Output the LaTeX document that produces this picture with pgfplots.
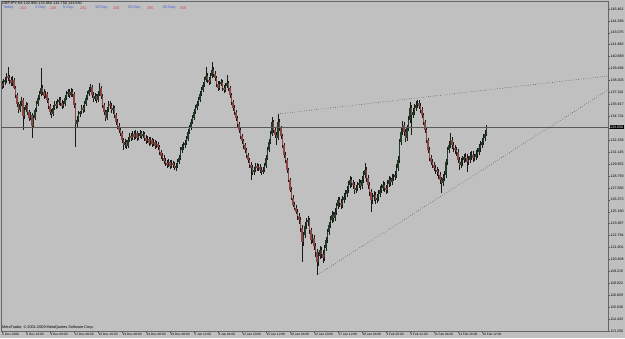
\documentclass[border=0pt]{standalone}
\usepackage{pgfplots}
\pgfplotsset{compat=1.18}
\usepackage{pgfplotstable}
\usepackage{fontspec}
\setmainfont{Liberation Sans}
\definecolor{bgc}{RGB}{192,192,192}
\definecolor{bullc}{RGB}{30,60,38}
\definecolor{bearc}{RGB}{140,68,68}
\definecolor{wickc}{RGB}{25,25,25}
\definecolor{lblue}{RGB}{70,95,215}
\definecolor{lred}{RGB}{225,65,65}
\newcommand\tf{\fontsize{3.8}{4.2}\selectfont}
\newcommand\pf{\fontsize{3.6}{4}\selectfont}
\pgfplotstableread{
i o h l c
0 137.95 138.25 137.45 137.75
1 137.75 138.45 137.55 138.15
2 138.15 138.65 137.85 138.35
3 138.35 139.05 138.05 138.75
4 138.75 139.65 138.25 138.55
5 138.55 138.85 137.95 138.35
6 138.35 138.65 137.75 138.05
7 138.05 138.75 137.75 138.35
8 138.35 138.55 137.45 137.55
9 137.55 137.75 136.55 136.85
10 136.85 137.05 135.65 135.95
11 135.95 136.15 135.05 135.35
12 135.35 136.25 135.15 135.95
13 135.95 136.65 135.75 136.35
14 136.35 136.55 133.35 134.75
15 134.75 135.65 134.45 135.35
16 135.35 136.15 135.15 135.85
17 135.85 136.05 134.85 135.15
18 135.15 135.35 134.25 134.55
19 134.55 135.15 134.35 134.85
20 134.85 135.05 132.55 133.75
21 133.75 134.85 133.55 134.55
22 134.55 135.55 134.35 135.35
23 135.35 136.25 135.15 135.95
24 135.95 136.85 135.75 136.55
25 136.55 137.25 136.35 136.95
26 136.95 139.55 136.75 137.55
27 137.55 137.85 136.85 137.15
28 137.15 137.45 136.45 136.75
29 136.75 137.25 136.55 136.95
30 136.95 137.15 136.05 136.35
31 136.35 136.55 135.45 135.75
32 135.75 135.95 134.85 135.15
33 135.15 135.45 134.55 134.95
34 134.95 135.85 134.75 135.55
35 135.55 136.25 135.35 135.95
36 135.95 136.25 135.45 135.75
37 135.75 136.45 135.55 136.15
38 136.15 136.65 135.85 136.35
39 136.35 136.65 135.75 136.05
40 136.05 136.35 135.45 135.75
41 135.75 136.25 135.55 135.95
42 135.95 136.85 135.75 136.55
43 136.55 137.25 136.35 136.95
44 136.95 137.45 136.65 137.15
45 137.15 137.45 136.55 136.85
46 136.85 137.55 136.65 137.15
47 137.15 137.45 136.65 136.95
48 136.95 137.15 135.55 135.85
49 135.85 136.05 131.65 133.95
50 133.95 134.75 133.65 134.35
51 134.35 135.25 134.15 134.95
52 134.95 135.25 134.65 135.15
53 135.15 135.85 134.95 135.55
54 135.55 135.85 135.05 135.35
55 135.35 136.25 135.15 135.95
56 135.95 136.85 135.75 136.55
57 136.55 137.25 136.35 136.95
58 136.95 137.65 136.75 137.35
59 137.35 137.95 137.15 137.65
60 137.65 137.85 136.55 136.85
61 136.85 137.15 136.15 136.45
62 136.45 137.05 136.25 136.75
63 136.75 136.95 136.05 136.35
64 136.35 137.25 136.15 136.95
65 136.95 138.05 136.75 137.55
66 137.55 137.75 136.45 136.75
67 136.75 136.95 135.55 135.85
68 135.85 136.05 134.85 135.15
69 135.15 135.35 134.25 134.55
70 134.55 135.65 134.35 135.35
71 135.35 136.25 135.15 135.95
72 135.95 136.25 135.45 135.75
73 135.75 136.05 135.05 135.35
74 135.35 135.85 134.95 135.55
75 135.55 135.75 134.55 134.85
76 134.85 135.05 133.85 134.15
77 134.15 134.45 133.45 133.75
78 133.75 134.05 133.05 133.35
79 133.35 133.65 132.75 133.05
80 133.05 133.25 132.05 132.35
81 132.35 132.55 131.35 131.85
82 131.85 132.45 131.55 132.15
83 132.15 132.35 131.45 131.75
84 131.75 132.65 131.55 132.35
85 132.35 133.05 132.15 132.75
86 132.75 133.05 132.25 132.55
87 132.55 133.25 132.35 132.95
88 132.95 133.25 132.35 132.65
89 132.65 133.35 132.45 133.05
90 133.05 133.25 132.25 132.55
91 132.55 133.05 132.35 132.75
92 132.75 133.35 132.55 133.05
93 133.05 133.25 132.45 132.75
94 132.75 133.25 132.55 132.95
95 132.95 133.15 132.25 132.55
96 132.55 132.85 131.95 132.25
97 132.25 132.75 132.05 132.45
98 132.45 132.65 131.75 132.05
99 132.05 132.65 131.85 132.35
100 132.35 132.55 131.65 131.95
101 131.95 132.45 131.75 132.15
102 132.15 132.35 131.45 131.75
103 131.75 132.25 131.55 131.95
104 131.95 132.15 131.35 131.65
105 131.65 131.85 130.85 131.15
106 131.15 131.35 130.45 130.75
107 130.75 131.05 130.25 130.55
108 130.55 130.85 129.95 130.25
109 130.25 130.55 129.75 130.05
110 130.05 130.35 129.55 129.85
111 129.85 130.45 129.65 130.15
112 130.15 130.35 129.45 129.75
113 129.75 130.35 129.55 130.05
114 130.05 130.25 129.55 129.85
115 129.85 130.15 129.35 129.55
116 129.55 130.05 129.25 129.75
117 129.75 130.45 129.55 130.15
118 130.15 130.85 129.95 130.55
119 130.55 131.65 130.35 131.35
120 131.35 131.95 131.05 131.65
121 131.65 132.15 131.35 131.85
122 131.85 132.35 131.55 132.05
123 132.05 132.75 131.85 132.45
124 132.45 133.45 132.25 133.15
125 133.15 133.85 132.95 133.55
126 133.55 134.45 133.35 134.15
127 134.15 134.85 133.95 134.55
128 134.55 135.45 134.35 135.15
129 135.15 135.85 134.95 135.55
130 135.55 136.25 135.35 135.95
131 135.95 136.65 135.75 136.35
132 136.35 137.25 136.15 136.95
133 136.95 137.65 136.75 137.35
134 137.35 138.15 137.15 137.85
135 137.85 138.65 137.65 138.35
136 138.35 139.65 138.15 138.75
137 138.75 139.05 138.05 138.35
138 138.35 138.65 137.85 138.15
139 138.15 139.05 137.95 138.75
140 138.75 140.15 138.55 139.35
141 139.35 139.65 138.65 138.95
142 138.95 139.25 138.25 138.55
143 138.55 138.75 137.65 137.95
144 137.95 138.25 137.25 137.55
145 137.55 138.25 137.35 137.95
146 137.95 138.45 137.75 138.15
147 138.15 138.35 137.25 137.55
148 137.55 137.85 137.05 137.35
149 137.35 138.05 137.15 137.75
150 137.75 138.85 137.55 138.05
151 138.05 138.25 137.25 137.55
152 137.55 137.75 136.55 136.85
153 136.85 137.05 135.85 136.15
154 136.15 136.35 135.25 135.55
155 135.55 135.85 134.85 135.15
156 135.15 135.35 134.25 134.55
157 134.55 134.75 133.65 133.95
158 133.95 134.15 133.05 133.35
159 133.35 133.55 132.45 132.75
160 132.75 132.95 131.95 132.25
161 132.25 132.45 131.45 131.85
162 131.85 132.05 131.05 131.35
163 131.35 131.55 130.55 130.85
164 130.85 131.05 130.05 130.35
165 130.35 130.55 129.55 129.85
166 129.85 130.15 128.35 129.55
167 129.55 129.85 128.85 129.15
168 129.15 129.65 128.85 129.35
169 129.35 130.05 129.15 129.75
170 129.75 130.05 129.25 129.55
171 129.55 129.95 129.25 129.65
172 129.65 129.95 129.05 129.35
173 129.35 129.65 128.85 129.15
174 129.15 129.65 128.95 129.35
175 129.35 130.05 129.15 129.75
176 129.75 130.85 129.55 130.55
177 130.55 131.65 130.35 131.35
178 131.35 132.45 131.15 132.15
179 132.15 133.25 131.95 132.95
180 132.95 134.65 132.75 134.15
181 134.15 134.35 133.05 133.35
182 133.35 133.65 132.55 132.85
183 132.85 133.15 131.85 132.55
184 132.55 134.95 132.35 134.15
185 134.15 134.45 133.25 133.55
186 133.55 133.75 132.45 132.75
187 132.75 132.95 131.55 131.85
188 131.85 132.05 130.55 130.85
189 130.85 131.15 130.05 130.35
190 130.35 130.55 129.05 129.35
191 129.35 129.55 128.15 128.35
192 128.35 128.55 127.15 127.35
193 127.35 127.65 126.35 126.55
194 126.55 126.85 125.65 125.85
195 125.85 126.15 125.35 125.55
196 125.55 125.85 124.95 125.15
197 125.15 125.45 124.35 124.75
198 124.75 125.05 123.95 124.35
199 124.35 124.65 123.15 123.55
200 123.55 123.85 120.15 122.15
201 122.15 123.15 121.75 122.85
202 122.85 124.15 122.55 123.75
203 123.75 124.55 123.45 124.15
204 124.15 124.75 123.75 124.35
205 124.35 124.55 122.95 123.35
206 123.35 123.55 121.95 122.35
207 122.35 122.95 122.05 122.55
208 122.55 122.85 121.35 121.75
209 121.75 122.05 120.65 121.15
210 121.15 121.45 118.85 120.15
211 120.15 121.15 119.75 120.75
212 120.75 121.75 120.45 121.35
213 121.35 121.65 120.55 120.95
214 120.95 121.35 120.05 120.55
215 120.55 121.85 120.25 121.55
216 121.55 122.65 121.25 122.35
217 122.35 123.45 122.05 123.15
218 123.15 124.15 122.85 123.85
219 123.85 124.75 123.55 124.35
220 124.35 125.25 124.05 124.85
221 124.85 125.15 124.15 124.55
222 124.55 125.55 124.25 125.15
223 125.15 126.05 124.85 125.75
224 125.75 126.65 125.45 126.35
225 126.35 126.65 125.65 126.05
226 126.05 126.45 125.45 125.85
227 125.85 126.75 125.55 126.35
228 126.35 127.05 126.05 126.65
229 126.65 127.35 126.35 126.95
230 126.95 127.75 126.65 127.35
231 127.35 128.25 127.05 127.85
232 127.85 128.75 127.55 128.35
233 128.35 128.65 127.65 128.05
234 128.05 128.35 127.45 127.85
235 127.85 128.15 126.95 127.35
236 127.35 127.85 127.05 127.55
237 127.55 128.15 127.25 127.85
238 127.85 128.45 127.55 128.05
239 128.05 128.35 127.35 127.75
240 127.75 128.75 127.45 128.35
241 128.35 129.25 128.05 128.85
242 128.85 130.05 128.55 129.35
243 129.35 129.65 128.15 128.55
244 128.55 128.85 127.45 127.85
245 127.85 128.15 126.75 127.15
246 127.15 127.45 125.15 126.35
247 126.35 127.05 125.95 126.65
248 126.65 127.25 126.25 126.85
249 126.85 127.15 125.95 126.35
250 126.35 126.95 126.05 126.55
251 126.55 127.35 126.25 126.95
252 126.95 127.75 126.65 127.35
253 127.35 127.95 127.05 127.55
254 127.55 128.25 127.25 127.85
255 127.85 128.15 127.15 127.55
256 127.55 127.85 126.95 127.35
257 127.35 128.35 127.05 127.95
258 127.95 128.75 127.65 128.35
259 128.35 128.65 127.75 128.15
260 128.15 128.95 127.85 128.55
261 128.55 128.95 128.25 128.65
262 128.65 129.25 128.35 128.85
263 128.85 129.95 128.55 129.55
264 129.55 130.75 129.25 130.35
265 130.35 132.45 130.05 132.15
266 132.15 133.55 131.85 133.15
267 133.15 134.25 132.85 133.85
268 133.85 134.15 132.75 133.15
269 133.15 133.45 132.15 132.55
270 132.55 133.85 132.25 133.55
271 133.55 134.75 133.25 134.35
272 134.35 136.15 134.05 135.55
273 135.55 135.85 132.85 134.85
274 134.85 135.55 134.55 135.15
275 135.15 135.95 134.85 135.55
276 135.55 136.25 135.25 135.85
277 135.85 136.35 135.55 136.05
278 136.05 136.35 135.45 135.75
279 135.75 136.05 135.05 135.35
280 135.35 135.65 134.55 134.85
281 134.85 135.05 133.85 134.15
282 134.15 134.35 133.05 133.35
283 133.35 133.55 132.05 132.35
284 132.35 132.55 131.05 131.35
285 131.35 131.65 130.25 130.55
286 130.55 130.85 129.85 130.15
287 130.15 130.45 129.55 129.85
288 129.85 130.15 129.25 129.55
289 129.55 129.85 128.95 129.35
290 129.35 129.65 128.75 129.15
291 129.15 129.45 128.45 128.85
292 128.85 129.15 127.95 128.35
293 128.35 128.65 127.05 128.05
294 128.05 128.95 127.75 128.55
295 128.55 129.25 128.25 128.85
296 128.85 130.45 128.55 130.15
297 130.15 131.65 129.85 131.35
298 131.35 132.25 131.05 131.85
299 131.85 133.05 131.55 132.35
300 132.35 132.65 131.45 131.85
301 131.85 132.15 131.15 131.55
302 131.55 131.85 130.95 131.35
303 131.35 131.65 130.75 131.15
304 131.15 131.45 130.05 130.35
305 130.35 130.65 129.35 129.85
306 129.85 130.55 129.55 130.15
307 130.15 130.75 129.75 130.35
308 130.35 130.95 130.05 130.65
309 130.65 131.05 130.15 130.55
310 130.55 130.95 129.15 130.15
311 130.15 130.75 129.85 130.35
312 130.35 131.15 130.05 130.75
313 130.75 131.25 130.35 130.85
314 130.85 131.25 130.15 130.55
315 130.55 130.95 130.25 130.65
316 130.65 131.35 130.35 130.95
317 130.95 131.55 130.55 131.15
318 131.15 131.95 130.85 131.55
319 131.55 132.25 131.15 131.85
320 131.85 132.55 131.55 132.15
321 132.15 132.95 131.85 132.55
322 132.55 133.35 132.25 132.95
323 132.95 133.85 132.75 133.55
}\candles
\begin{document}
\begin{tikzpicture}
\fill[bgc] (0,0) rectangle (625pt,338pt);
\begin{axis}[
  at={(1pt,7pt)}, anchor=south west,
  scale only axis, width=607pt, height=330pt,
  xmin=-0.6667, xmax=404, ymin=113.25, ymax=146.25,
  axis line style={draw=black!60, line width=0.5pt},
  tick align=outside, major tick length=1.8pt,
  tick style={draw=black!70, line width=0.35pt},
  xtick pos=bottom, ytick pos=right, yticklabel pos=right,
  scaled y ticks=false,
  /pgf/number format/assume math mode=true,
  xtick={0,16,32,48,64,80,96,112,128,144,160,176,192,208,224,240,256,272,288,304,320},
  xticklabels={2 Dec 2008,4 Dec 16:00,9 Dec 08:00,12 Dec 00:00,16 Dec 16:00,19 Dec 08:00,24 Dec 00:00,29 Dec 08:00,5 Jan 12:00,8 Jan 04:00,12 Jan 20:00,15 Jan 12:00,20 Jan 04:00,22 Jan 20:00,27 Jan 12:00,30 Jan 04:00,3 Feb 20:00,6 Feb 12:00,11 Feb 04:00,13 Feb 20:00,18 Feb 12:00},
  xticklabel style={font=\fontsize{3.2}{3.6}\selectfont, anchor=north west, inner sep=0.3pt},
  ytick={113.250,114.443,115.636,116.829,118.022,119.215,120.408,121.601,122.794,123.987,125.180,126.373,127.566,128.759,129.952,131.145,132.338,133.531,134.724,135.917,137.110,138.303,139.496,140.689,141.882,143.075,144.268,145.461},
  yticklabel style={font=\pf, anchor=west, inner sep=0.5pt, /pgf/number format/.cd, fixed, fixed zerofill, precision=3},
]
\addplot[draw=none, mark=none, forget plot,
  error bars/.cd, y dir=plus, y explicit, error mark=none,
  error bar style={draw=wickc, line width=0.5pt, solid}]
  table[x=i, y=l, y error plus expr=\thisrow{h}-\thisrow{l}] {\candles};
\addplot[draw=none, mark=none, forget plot,
  error bars/.cd, y dir=plus, y explicit, error mark=none,
  error bar style={draw=bullc, line width=1.2pt, solid}]
  table[x=i, y expr={\thisrow{c}>=\thisrow{o} ? \thisrow{o} : 0},
        y error plus expr={\thisrow{c}>=\thisrow{o} ? \thisrow{c}-\thisrow{o} : 0}] {\candles};
\addplot[draw=none, mark=none, forget plot,
  error bars/.cd, y dir=plus, y explicit, error mark=none,
  error bar style={draw=bearc, line width=1.2pt, solid}]
  table[x=i, y expr={\thisrow{c}<\thisrow{o} ? \thisrow{c} : 0},
        y error plus expr={\thisrow{c}<\thisrow{o} ? \thisrow{o}-\thisrow{c} : 0}] {\candles};
\addplot[draw=black!65, line width=0.6pt] coordinates {(-0.6667,133.65) (404,133.65)};
\addplot[draw=black, dotted, line width=0.4pt] coordinates {(184,134.95) (404,138.75)};
\addplot[draw=black, dotted, line width=0.4pt] coordinates {(210,118.85) (404,137.35)};
\end{axis}
\node[anchor=west, inner sep=0pt, font=\tf] at (2pt,334.3pt) {GBPJPY,H4 132.950 133.850 132.750 133.550};
\node[anchor=west, inner sep=0pt, font=\tf, text=lblue] at (3pt,330pt) {Today:};
\node[anchor=west, inner sep=0pt, font=\tf, text=lred] at (20pt,330pt) {104};
\node[anchor=west, inner sep=0pt, font=\tf, text=lblue] at (35pt,330pt) {1 Day:};
\node[anchor=west, inner sep=0pt, font=\tf, text=lred] at (50pt,330pt) {245};
\node[anchor=west, inner sep=0pt, font=\tf, text=lblue] at (63pt,330pt) {5 Day:};
\node[anchor=west, inner sep=0pt, font=\tf, text=lred] at (80pt,330pt) {281};
\node[anchor=west, inner sep=0pt, font=\tf, text=lblue] at (95pt,330pt) {10 Day:};
\node[anchor=west, inner sep=0pt, font=\tf, text=lred] at (113pt,330pt) {340};
\node[anchor=west, inner sep=0pt, font=\tf, text=lblue] at (128pt,330pt) {20 Day:};
\node[anchor=west, inner sep=0pt, font=\tf, text=lred] at (147pt,330pt) {385};
\node[anchor=west, inner sep=0pt, font=\tf, text=lblue] at (163pt,330pt) {60 Day:};
\node[anchor=west, inner sep=0pt, font=\tf, text=lred] at (180pt,330pt) {506};
\node[anchor=west, inner sep=0pt, font=\tf] at (2pt,10pt) {MetaTrader, \textcopyright{} 2001-2009 MetaQuotes Software Corp.};
\node[anchor=west, fill=black, text=white, inner sep=0.6pt, font=\pf] at (609.3pt,211pt) {133.650};
\pgfresetboundingbox
\path[use as bounding box] (0,0) rectangle (625pt,338pt);
\end{tikzpicture}
\end{document}
